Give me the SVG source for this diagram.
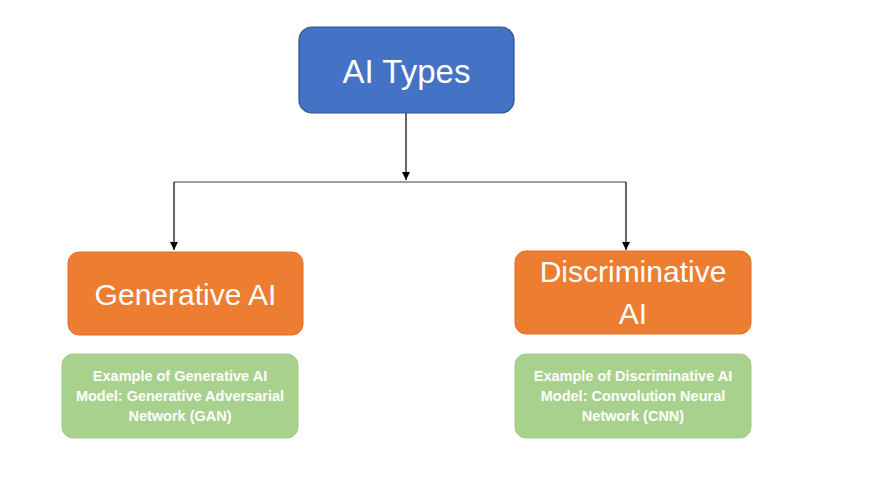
<svg xmlns="http://www.w3.org/2000/svg" width="875" height="483" viewBox="0 0 875 483">
<style>
.t{font-family:"Liberation Sans",Arial,sans-serif;fill:#fff;text-anchor:middle}
.big{font-size:30px}
.sm{font-size:14.5px;font-weight:bold}
.orange{fill:#ED7D31;stroke:#E0702A;stroke-width:1}
.green{fill:#A9D18E;stroke:#A3CB88;stroke-width:1}
.ln{stroke:#000;stroke-width:1.2;fill:none}
</style>
<defs>
<marker id="ah" viewBox="0 0 10 10" refX="10" refY="5" markerWidth="8" markerHeight="8" markerUnits="userSpaceOnUse" orient="auto">
<path d="M0,0 L10,5 L0,10 z" fill="#000"/>
</marker>
</defs>
<rect width="875" height="483" fill="#fff"/>
<g id="connectors">
<line class="ln" x1="406" y1="113" x2="406" y2="180" marker-end="url(#ah)"/>
<line x1="174" y1="182" x2="626" y2="182" stroke="#7f7f7f" stroke-width="1.5"/>
<line class="ln" x1="174" y1="182" x2="174" y2="250" marker-end="url(#ah)"/>
<line class="ln" x1="626" y1="182" x2="626" y2="250" marker-end="url(#ah)"/>
</g>
<g id="ai-types">
<rect x="299" y="27" width="215" height="86" rx="13" fill="#4472C4" stroke="#2F528F" stroke-width="1.2"/>
<text class="t" x="406.5" y="83" font-size="33">AI Types</text>
</g>
<g id="generative">
<rect class="orange" x="68" y="252" width="235" height="83" rx="11"/>
<text class="t big" x="185.5" y="305">Generative AI</text>
</g>
<g id="discriminative">
<rect class="orange" x="515" y="251" width="236" height="83" rx="11"/>
<text class="t big" x="633" y="282">Discriminative</text>
<text class="t big" x="633" y="324">AI</text>
</g>
<g id="gen-example">
<rect class="green" x="62" y="354" width="236" height="84" rx="11"/>
<text class="t sm" x="180" y="381">Example of Generative AI</text>
<text class="t sm" x="180" y="401">Model: Generative Adversarial</text>
<text class="t sm" x="180" y="421">Network (GAN)</text>
</g>
<g id="disc-example">
<rect class="green" x="515" y="354" width="236" height="84" rx="11"/>
<text class="t sm" x="633" y="381">Example of Discriminative AI</text>
<text class="t sm" x="633" y="401">Model: Convolution Neural</text>
<text class="t sm" x="633" y="421">Network (CNN)</text>
</g>
</svg>
